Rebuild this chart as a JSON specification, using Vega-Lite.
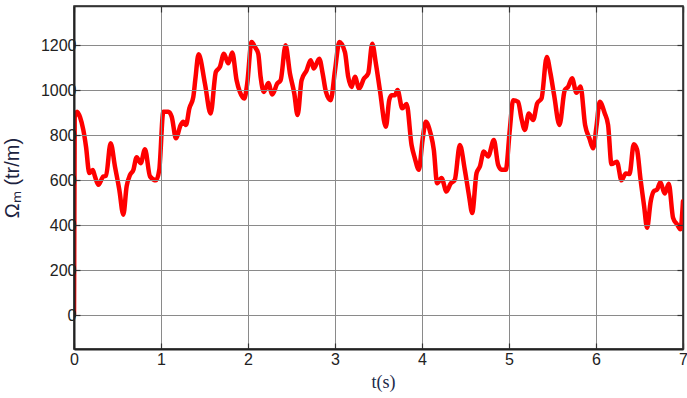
{
  "$schema": "https://vega.github.io/schema/vega-lite/v6.json",
  "width": 609,
  "height": 343,
  "autosize": {"type": "none"},
  "padding": {"left": 74, "top": 6, "right": 4, "bottom": 49},
  "background": "white",
  "config": {
    "view": {"stroke": "#222", "strokeWidth": 1.5},
    "font": "Liberation Sans"
  },
  "data": {"values": [
    {"t": 0, "w": 0}, {"t": 0.008, "w": 880}, {"t": 0.035, "w": 905}, {"t": 0.07, "w": 880},
    {"t": 0.107, "w": 824}, {"t": 0.138, "w": 750}, {"t": 0.176, "w": 632}, {"t": 0.215, "w": 646},
    {"t": 0.241, "w": 617}, {"t": 0.28, "w": 580}, {"t": 0.337, "w": 617}, {"t": 0.368, "w": 620},
    {"t": 0.421, "w": 765}, {"t": 0.471, "w": 661}, {"t": 0.521, "w": 558}, {"t": 0.567, "w": 447},
    {"t": 0.605, "w": 573}, {"t": 0.644, "w": 624}, {"t": 0.682, "w": 646}, {"t": 0.72, "w": 703},
    {"t": 0.766, "w": 676}, {"t": 0.816, "w": 738}, {"t": 0.874, "w": 617}, {"t": 0.943, "w": 600},
    {"t": 0.98, "w": 646}, {"t": 1.027, "w": 905}, {"t": 1.084, "w": 905}, {"t": 1.123, "w": 883},
    {"t": 1.172, "w": 787}, {"t": 1.226, "w": 846}, {"t": 1.257, "w": 860}, {"t": 1.287, "w": 846},
    {"t": 1.326, "w": 920}, {"t": 1.371, "w": 970}, {"t": 1.395, "w": 1050}, {"t": 1.432, "w": 1160},
    {"t": 1.505, "w": 1030}, {"t": 1.57, "w": 897}, {"t": 1.631, "w": 1082}, {"t": 1.677, "w": 1104},
    {"t": 1.723, "w": 1163}, {"t": 1.773, "w": 1120}, {"t": 1.819, "w": 1168}, {"t": 1.869, "w": 1045},
    {"t": 1.907, "w": 993}, {"t": 1.957, "w": 964}, {"t": 1.991, "w": 1030}, {"t": 2.041, "w": 1215},
    {"t": 2.079, "w": 1193}, {"t": 2.118, "w": 1163}, {"t": 2.145, "w": 1060}, {"t": 2.183, "w": 993},
    {"t": 2.233, "w": 1033}, {"t": 2.279, "w": 982}, {"t": 2.336, "w": 1030}, {"t": 2.375, "w": 1045},
    {"t": 2.432, "w": 1200}, {"t": 2.482, "w": 1075}, {"t": 2.532, "w": 986}, {"t": 2.57, "w": 890},
    {"t": 2.616, "w": 1045}, {"t": 2.674, "w": 1089}, {"t": 2.72, "w": 1134}, {"t": 2.757, "w": 1097},
    {"t": 2.819, "w": 1141}, {"t": 2.858, "w": 1075}, {"t": 2.896, "w": 993}, {"t": 2.95, "w": 956},
    {"t": 3.0, "w": 1089}, {"t": 3.05, "w": 1215}, {"t": 3.114, "w": 1170}, {"t": 3.152, "w": 1060},
    {"t": 3.19, "w": 1015}, {"t": 3.229, "w": 1060}, {"t": 3.278, "w": 1008}, {"t": 3.332, "w": 1052},
    {"t": 3.382, "w": 1075}, {"t": 3.428, "w": 1207}, {"t": 3.47, "w": 1119}, {"t": 3.516, "w": 1001},
    {"t": 3.585, "w": 838}, {"t": 3.623, "w": 956}, {"t": 3.65, "w": 978}, {"t": 3.688, "w": 978},
    {"t": 3.719, "w": 1001}, {"t": 3.773, "w": 920}, {"t": 3.823, "w": 939}, {"t": 3.88, "w": 757},
    {"t": 3.918, "w": 698}, {"t": 3.964, "w": 647}, {"t": 4.006, "w": 779}, {"t": 4.044, "w": 860},
    {"t": 4.098, "w": 809}, {"t": 4.136, "w": 735}, {"t": 4.174, "w": 587}, {"t": 4.224, "w": 610},
    {"t": 4.282, "w": 550}, {"t": 4.328, "w": 585}, {"t": 4.377, "w": 602}, {"t": 4.435, "w": 757},
    {"t": 4.492, "w": 647}, {"t": 4.542, "w": 528}, {"t": 4.577, "w": 455}, {"t": 4.627, "w": 632},
    {"t": 4.665, "w": 661}, {"t": 4.711, "w": 728}, {"t": 4.76, "w": 706}, {"t": 4.826, "w": 779},
    {"t": 4.875, "w": 669}, {"t": 4.914, "w": 647}, {"t": 4.963, "w": 647}, {"t": 5.009, "w": 824},
    {"t": 5.047, "w": 956}, {"t": 5.105, "w": 949}, {"t": 5.143, "w": 875}, {"t": 5.182, "w": 824},
    {"t": 5.228, "w": 897}, {"t": 5.278, "w": 868}, {"t": 5.324, "w": 942}, {"t": 5.374, "w": 964},
    {"t": 5.434, "w": 1148}, {"t": 5.477, "w": 1075}, {"t": 5.52, "w": 975}, {"t": 5.58, "w": 846},
    {"t": 5.641, "w": 1001}, {"t": 5.68, "w": 1016}, {"t": 5.725, "w": 1054}, {"t": 5.775, "w": 989},
    {"t": 5.822, "w": 1017}, {"t": 5.875, "w": 845}, {"t": 5.925, "w": 786}, {"t": 5.967, "w": 742},
    {"t": 6.005, "w": 838}, {"t": 6.043, "w": 949}, {"t": 6.1, "w": 898}, {"t": 6.139, "w": 846},
    {"t": 6.178, "w": 672}, {"t": 6.24, "w": 683}, {"t": 6.293, "w": 600}, {"t": 6.342, "w": 630},
    {"t": 6.385, "w": 628}, {"t": 6.434, "w": 760}, {"t": 6.472, "w": 736}, {"t": 6.51, "w": 610},
    {"t": 6.553, "w": 485}, {"t": 6.587, "w": 389}, {"t": 6.629, "w": 507}, {"t": 6.664, "w": 551},
    {"t": 6.702, "w": 559}, {"t": 6.74, "w": 591}, {"t": 6.79, "w": 541}, {"t": 6.836, "w": 585},
    {"t": 6.886, "w": 433}, {"t": 6.932, "w": 404}, {"t": 6.97, "w": 382}, {"t": 7.0, "w": 507}
  ]},
  "layer": [
    {
      "mark": {"type": "line", "color": "#ff0000", "strokeWidth": 4.5, "interpolate": "monotone", "clip": true, "strokeJoin": "round", "strokeCap": "round"},
      "encoding": {
        "x": {
          "field": "t", "type": "quantitative",
          "scale": {"domain": [0, 7], "nice": false, "zero": false},
          "axis": {
            "values": [0, 1, 2, 3, 4, 5, 6, 7],
            "format": "d",
            "title": "t(s)",
            "titleFont": "Liberation Serif", "titleFontSize": 18, "titleFontWeight": "normal",
            "titleColor": "#1b2a4a", "titleX": 309, "titleY": 24,
            "labelFontSize": 16, "labelColor": "#222", "labelPadding": 8, "labelFlush": false,
            "grid": true, "gridColor": "#8a8a8a", "gridWidth": 1,
            "domainColor": "#222", "domainWidth": 2,
            "tickSize": -6, "tickColor": "#333", "tickWidth": 1.2,
            "zindex": 1
          }
        },
        "y": {
          "field": "w", "type": "quantitative",
          "scale": {"domain": [-150, 1375], "nice": false, "zero": false},
          "axis": {
            "values": [0, 200, 400, 600, 800, 1000, 1200],
            "format": "d",
            "title": "Ωₘ   (tr/m)",
            "titleFont": "Liberation Sans", "titleFontSize": 20, "titleFontWeight": "normal",
            "titleColor": "#1c2340", "titleX": -52,
            "labelFontSize": 16, "labelColor": "#222", "labelPadding": 4,
            "grid": true, "gridColor": "#8a8a8a", "gridWidth": 1,
            "domainColor": "#222", "domainWidth": 2,
            "tickSize": -6, "tickColor": "#333", "tickWidth": 1.2,
            "zindex": 1
          }
        }
      }
    },
    {
      "mark": {"type": "line", "strokeOpacity": 0, "clip": true},
      "encoding": {
        "x": {
          "field": "t", "type": "quantitative",
          "axis": {
            "orient": "top", "values": [0, 1, 2, 3, 4, 5, 6, 7],
            "labels": false, "title": null, "grid": false,
            "domainColor": "#333", "domainWidth": 1.5,
            "tickSize": -6, "tickColor": "#333", "tickWidth": 1.2, "zindex": 1
          }
        },
        "y": {
          "field": "w", "type": "quantitative",
          "axis": {
            "orient": "right", "values": [0, 200, 400, 600, 800, 1000, 1200],
            "labels": false, "title": null, "grid": false,
            "domainColor": "#333", "domainWidth": 1.5,
            "tickSize": -6, "tickColor": "#333", "tickWidth": 1.2, "zindex": 1
          }
        }
      }
    }
  ],
  "resolve": {"axis": {"x": "independent", "y": "independent"}}
}
